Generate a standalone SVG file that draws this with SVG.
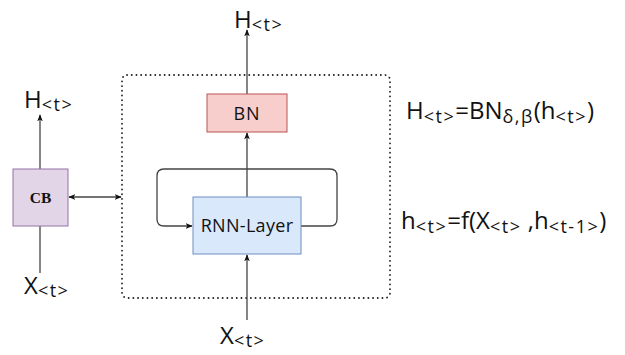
<svg xmlns="http://www.w3.org/2000/svg" width="625" height="355" viewBox="0 0 625 355">
<style>
text{font-family:"Open Sans","Noto Sans",sans-serif;fill:#111}
.big{font-size:24px}
.sub{font-size:18px;letter-spacing:1.5px}
.lbl{font-size:18px}
.conn{stroke:#444;stroke-width:1.3;fill:none}
</style>
<defs>
<marker id="ah" viewBox="0 0 10 10" refX="9" refY="5" markerWidth="7" markerHeight="7" orient="auto-start-reverse" markerUnits="userSpaceOnUse">
<path d="M0,1 L10,5 L0,9 L2.5,5 Z" fill="#111"/>
</marker>
</defs>
<rect x="0" y="0" width="625" height="355" fill="#fff"/>
<g id="container">
<rect x="122" y="75" width="268" height="223" rx="5" fill="none" stroke="#222" stroke-width="1.8" stroke-dasharray="0.1 4.6" stroke-linecap="round"/>
</g>
<g id="connectors">
<path class="conn" d="M247,94 L247,30" marker-end="url(#ah)"/>
<path class="conn" d="M247,197 L247,133" marker-end="url(#ah)"/>
<path class="conn" d="M247,320 L247,255" marker-end="url(#ah)"/>
<path class="conn" d="M301,226 L330,226 Q337,226 337,219 L337,176 Q337,169 330,169 L164,169 Q157,169 157,176 L157,219 Q157,226 164,226 L192,226" marker-end="url(#ah)"/>
<path class="conn" d="M40,169 L40,115" marker-end="url(#ah)"/>
<path class="conn" d="M40,226 L40,273"/>
<path class="conn" d="M69,197 L121,197" marker-start="url(#ah)" marker-end="url(#ah)"/>
</g>
<g id="bn">
<rect x="207" y="94" width="80" height="38" fill="#f8cecc" stroke="#b85450" stroke-width="1"/>
<text class="lbl" x="247" y="119.5" text-anchor="middle" style="letter-spacing:1px">BN</text>
</g>
<g id="rnn">
<rect x="193" y="197" width="108" height="57" fill="#dae8fc" stroke="#6c8ebf" stroke-width="1"/>
<text class="lbl" x="247" y="232" text-anchor="middle" style="letter-spacing:0.3px">RNN-Layer</text>
</g>
<g id="cb">
<rect x="13" y="169" width="55" height="57" fill="#e1d5e7" stroke="#9673a6" stroke-width="1"/>
<text x="40.5" y="203" text-anchor="middle" style="font-family:'Liberation Serif',serif;font-weight:bold;font-size:15.5px">CB</text>
</g>
<g id="labels">
<text class="big" x="234" y="28">H<tspan class="sub" dy="3">&lt;t&gt;</tspan></text>
<text class="big" x="24" y="108">H<tspan class="sub" dy="3">&lt;t&gt;</tspan></text>
<text class="big" x="24" y="294">X<tspan class="sub" dy="3">&lt;t&gt;</tspan></text>
<text class="big" x="220" y="344">X<tspan class="sub" dy="3">&lt;t&gt;</tspan></text>
<text class="big" x="406" y="119">H<tspan class="sub" dy="4">&lt;t&gt;</tspan><tspan dy="-4">=BN</tspan><tspan class="sub" dy="4">δ,β</tspan><tspan dy="-4">(h</tspan><tspan class="sub" dy="4">&lt;t&gt;</tspan><tspan dy="-4">)</tspan></text>
<text class="big" x="401" y="229">h<tspan class="sub" dy="4">&lt;t&gt;</tspan><tspan dy="-4">=f(X</tspan><tspan class="sub" dy="4">&lt;t&gt;</tspan><tspan dy="-4"> ,h</tspan><tspan class="sub" dy="4">&lt;t-1&gt;</tspan><tspan dy="-4">)</tspan></text>
</g>
</svg>
